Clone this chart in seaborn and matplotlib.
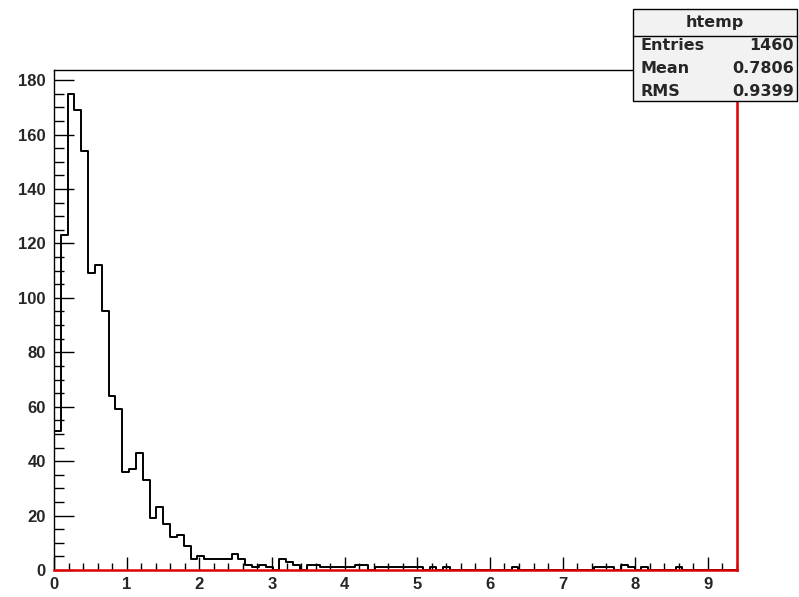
import numpy as np
import pandas as pd
import matplotlib
matplotlib.use("Agg")
import matplotlib.pyplot as plt
import seaborn as sns
from matplotlib.patches import Rectangle
from matplotlib.ticker import MultipleLocator

# ---- data ----
x_min, x_max, n_bins = 0.0, 9.4, 100
counts = [
    51, 123, 175, 169, 154, 109, 112, 95, 64, 59,
    36, 37, 43, 33, 19, 23, 17, 12, 13, 9,
    4, 5, 4, 4, 4, 4, 6, 4, 2, 1,
    2, 1, 0, 4, 3, 2, 0, 2, 2, 1,
    1, 1, 1, 1, 2, 2, 0, 1, 1, 1,
    1, 1, 1, 1, 0, 1, 0, 1, 0, 0,
    0, 0, 0, 0, 0, 0, 0, 1, 0, 0,
    0, 0, 0, 0, 0, 0, 0, 0, 0, 1,
    1, 1, 0, 2, 1, 0, 1, 0, 0, 0,
    0, 1, 0, 0, 0, 0, 0, 0, 0, 0,
]
x_ticks = [0, 1, 2, 3, 4, 5, 6, 7, 8, 9]
y_ticks = [0, 20, 40, 60, 80, 100, 120, 140, 160, 180]
y_top = 183.75
stats_title = "htemp"
stats_labels = ["Entries", "Mean", "RMS"]
stats_values = ["1460", "0.7806", "0.9399"]

sns.set_theme(style="white")
plt.rcParams["font.family"] = ["Liberation Sans", "DejaVu Sans"]
plt.rcParams["font.weight"] = "bold"

edges = np.linspace(x_min, x_max, n_bins + 1)
centers = (edges[:-1] + edges[1:]) / 2
df = pd.DataFrame({"x": centers, "n": counts})

W, H = 799, 597
fig = plt.figure(figsize=(W / 100, H / 100), dpi=100)
fig.patch.set_facecolor("white")
ax = fig.add_axes([54 / W, (H - 570) / H, (737 - 54) / W, (570 - 70) / H])

sns.histplot(data=df, x="x", weights="n", bins=edges.tolist(), element="step",
             fill=False, color="black", linewidth=1.4, ax=ax)

ax.set_xlim(x_min, x_max)
ax.set_ylim(0, y_top)
ax.set_xlabel("")
ax.set_ylabel("")
ax.set_xticks(x_ticks)
ax.set_yticks(y_ticks)
ax.xaxis.set_minor_locator(MultipleLocator(0.2))
ax.yaxis.set_minor_locator(MultipleLocator(5))
ax.tick_params(which="both", bottom=True, left=True, top=False, right=False,
               direction="in", color="black", width=1.0)
ax.tick_params(axis="x", which="major", length=9.5, labelsize=12, pad=5)
ax.tick_params(axis="x", which="minor", length=5)
ax.tick_params(axis="y", which="major", length=14.5, labelsize=12, pad=6)
ax.tick_params(axis="y", which="minor", length=7.2)
for lab in ax.get_xticklabels() + ax.get_yticklabels():
    lab.set_fontweight("bold")

for s in ["top", "left"]:
    ax.spines[s].set_color("black")
    ax.spines[s].set_linewidth(1.0)
for s in ["bottom", "right"]:
    ax.spines[s].set_color("#e00000")
    ax.spines[s].set_linewidth(1.8)
    ax.spines[s].set_zorder(3)

# ---- stats box (figure pixel coordinates) ----
ov = fig.add_axes([0, 0, 1, 1])
ov.set_xlim(0, W)
ov.set_ylim(H, 0)
ov.axis("off")
bx0, by0, bx1, by1 = 633, 9, 797, 101
ov.add_patch(Rectangle((bx0, by0), bx1 - bx0, by1 - by0, facecolor="#f2f2f2",
                       edgecolor="black", linewidth=1.0))
ov.plot([bx0, bx1], [36, 36], color="black", linewidth=1.0)
box_font = ["DejaVu Sans"]
ov.text((bx0 + bx1) / 2, 23, stats_title, ha="center", va="center",
        fontsize=11.5, fontweight="bold", family=box_font)
for i, (lab, val) in enumerate(zip(stats_labels, stats_values)):
    yy = 46 + i * 22.5
    ov.text(641, yy, lab, ha="left", va="center", fontsize=11.5,
            fontweight="bold", family=box_font)
    ov.text(794, yy, val, ha="right", va="center", fontsize=11.5,
            fontweight="bold", family=box_font)

fig.savefig("out.png", dpi=100)
